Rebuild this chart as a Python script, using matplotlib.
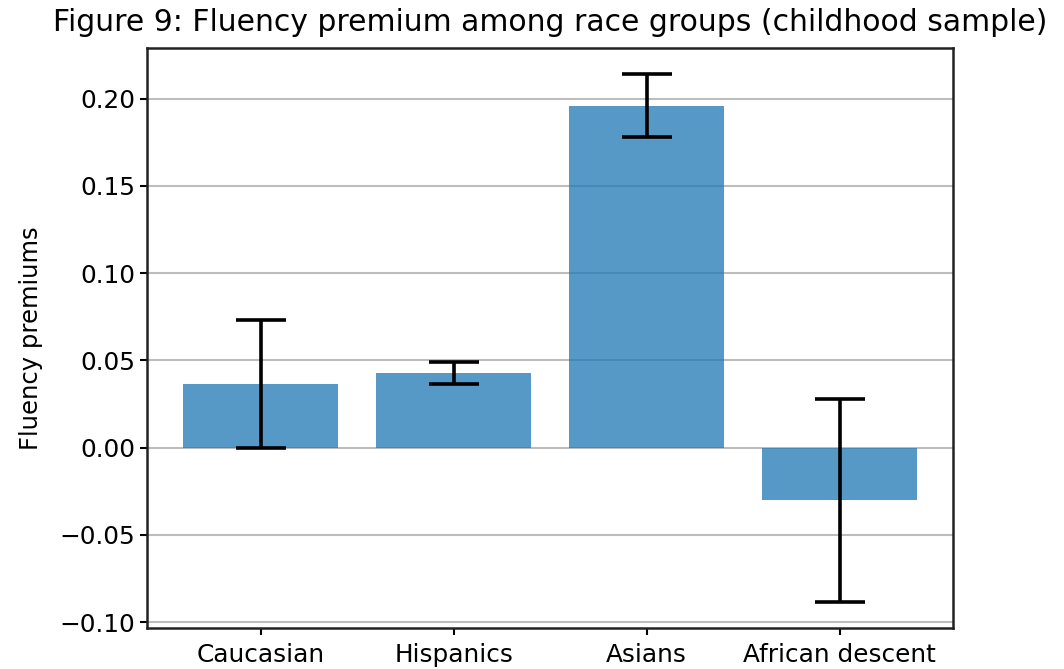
import matplotlib
matplotlib.use("Agg")
import matplotlib.pyplot as plt
import numpy as np

groups = ["Caucasian", "Hispanics", "Asians", "African descent"]
premium = [0.0365, 0.0428, 0.1960, -0.0303]
err = [0.0365, 0.0065, 0.0180, 0.0580]

fig = plt.figure(figsize=(10.64, 6.69), dpi=100)
ax = fig.add_axes([0.138, 0.0613, 0.758, 0.867])

x = np.arange(len(groups))
ax.bar(x, premium, width=0.8, color="#1f77b4", alpha=0.75,
       yerr=err, capsize=18,
       error_kw=dict(ecolor="black", elinewidth=2.6, capthick=2.6))
ax.set_xticks(x)
ax.set_xticklabels(groups, fontsize=17.8)
ax.tick_params(axis="y", labelsize=17.8, width=1.5, length=5)
ax.tick_params(axis="x", width=1.5, length=5, pad=6)
ax.yaxis.grid(True, color="#bdbdbd", linewidth=1.5)
ax.set_axisbelow(True)
for s in ax.spines.values():
    s.set_linewidth(1.8)
    s.set_edgecolor("#222222")
ax.set_ylabel("Fluency premiums", fontsize=17.5, labelpad=12)
ax.set_title("Figure 9: Fluency premium among race groups (childhood sample)",
             fontsize=21.5, pad=12)

fig.savefig("out.png", dpi=100)
